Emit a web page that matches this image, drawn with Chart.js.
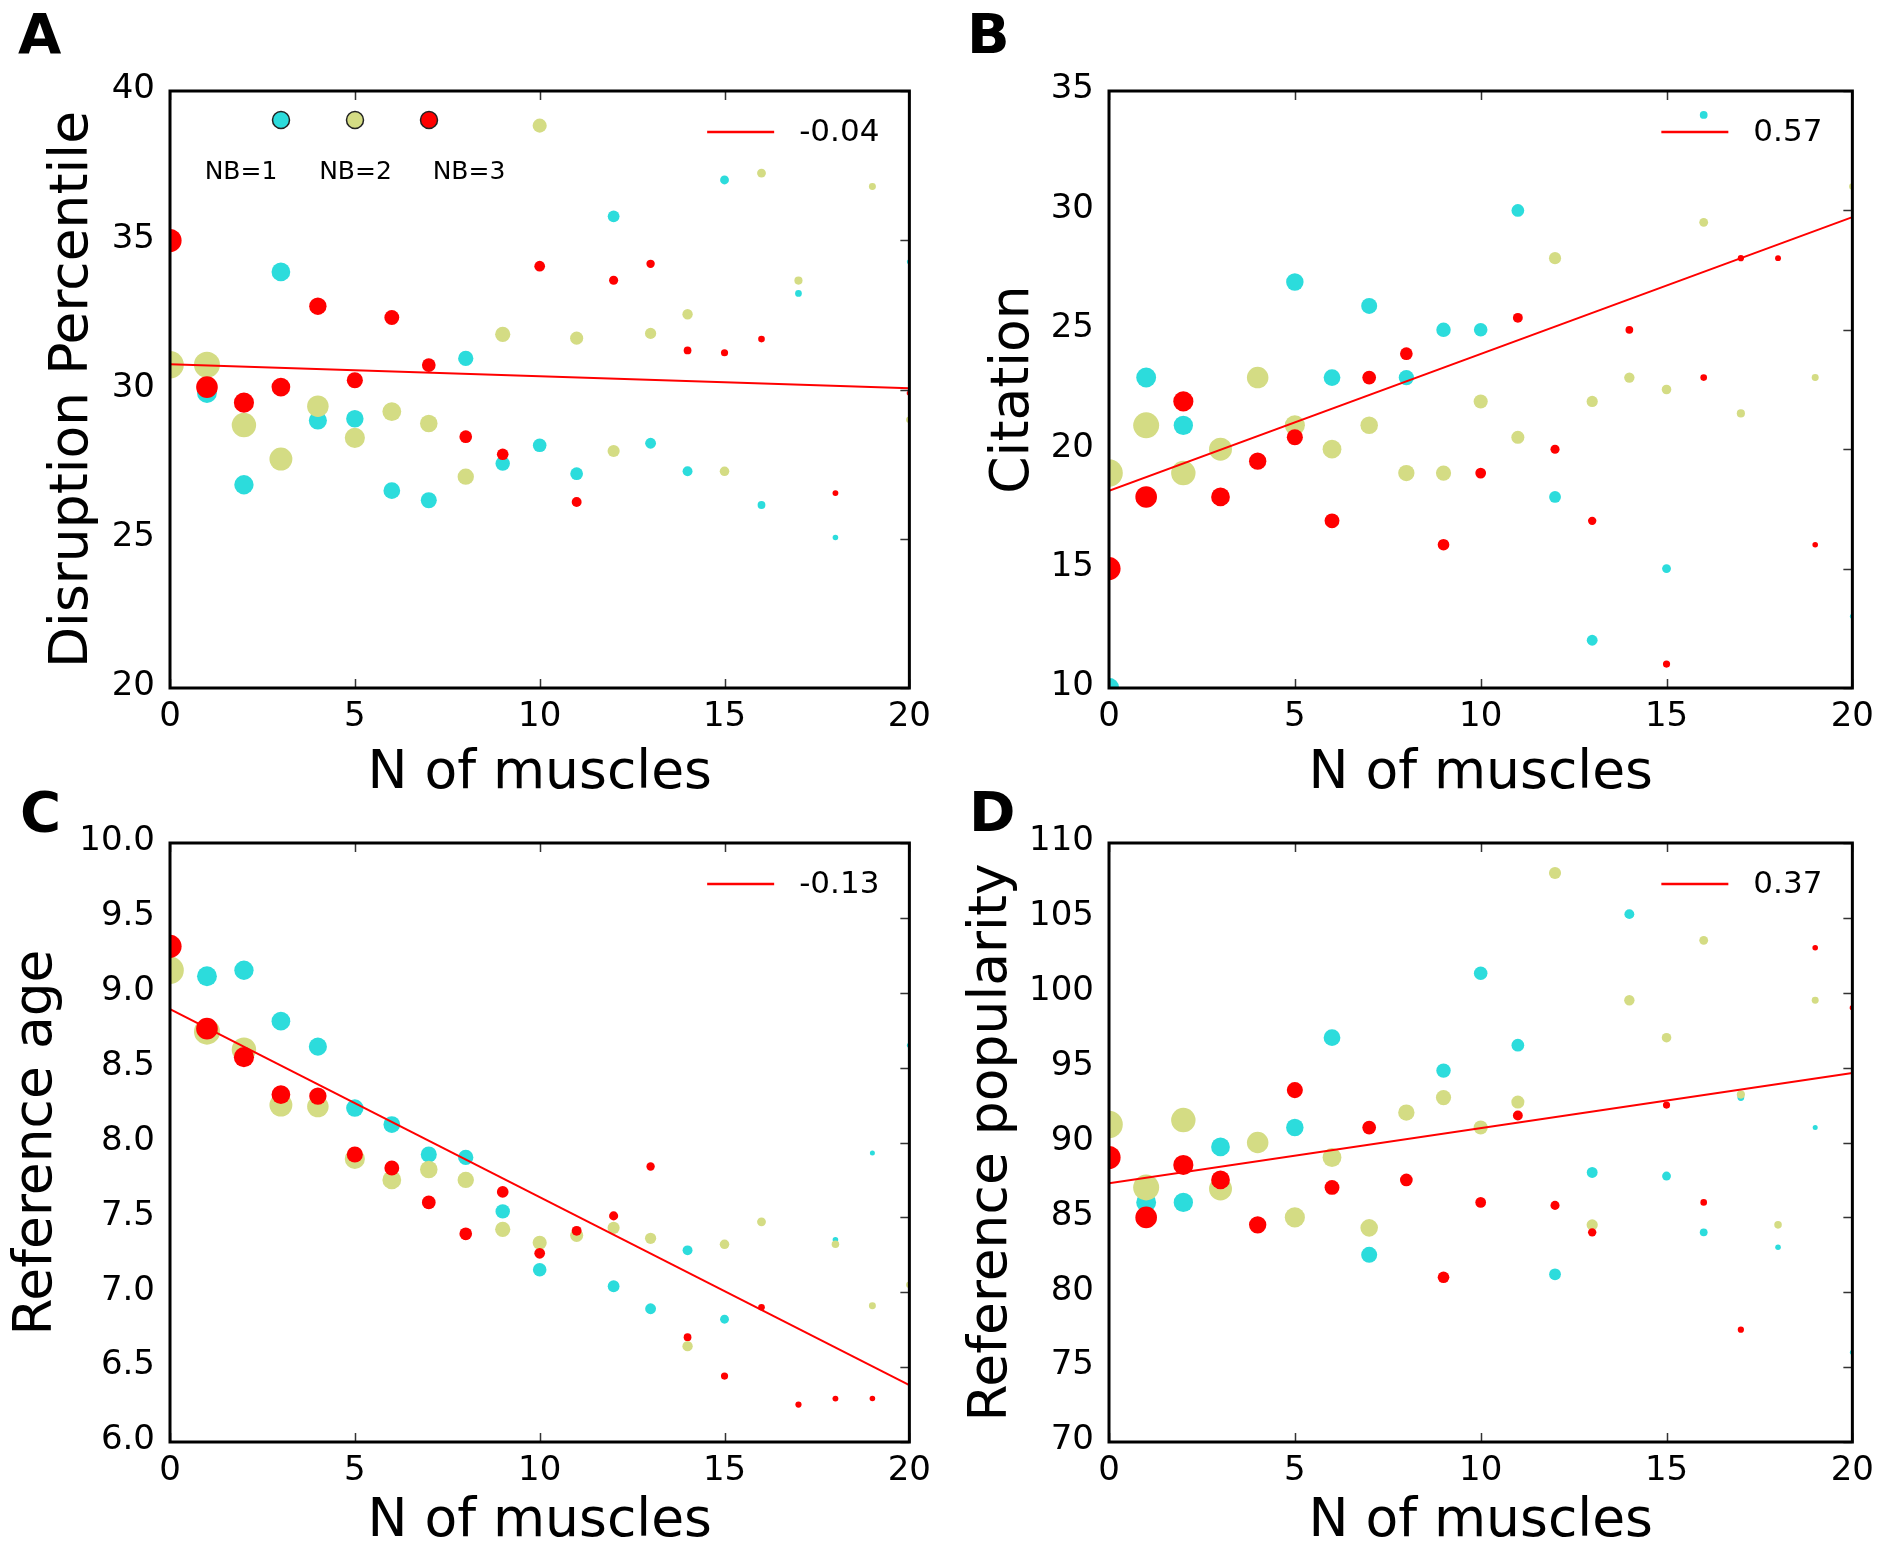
<!DOCTYPE html>
<html>
<head>
<meta charset="utf-8">
<script src="https://cdn.jsdelivr.net/npm/chart.js@4.4.1/dist/chart.umd.min.js"></script>
<style>
  html, body { margin: 0; padding: 0; background: #fff; overflow: hidden; }
  body { width: 1883px; height: 1550px; position: relative; }
  canvas { position: absolute; }
</style>
</head>
<body>
<canvas id="chartA" width="940" height="810" style="left:0px;top:0px"></canvas>
<canvas id="chartB" width="943" height="810" style="left:940px;top:0px"></canvas>
<canvas id="chartC" width="940" height="790" style="left:0px;top:760px"></canvas>
<canvas id="chartD" width="943" height="790" style="left:940px;top:760px"></canvas>
<script>
// x values: number of muscles
var nMuscles = [0,1,2,3,4,5,6,7,8,9,10,11,12,13,14,15,16,17,18,19,20];
var xTicks = [0, 5, 10, 15, 20];

// A - disruption percentile
var disruptNB1 = [null,29.88,26.81,33.94,28.96,29.02,26.61,26.29,31.04,27.52,28.13,27.18,35.80,28.20,27.26,37.02,26.13,33.22,25.04,null,34.28];
var disruptNB2 = [30.83,30.83,28.81,27.67,29.44,28.38,29.26,28.86,27.08,31.85,38.84,31.72,27.94,31.88,32.52,27.26,37.25,33.65,null,36.80,28.99];
var disruptNB3 = [34.99,30.08,29.56,30.08,32.79,30.31,32.41,30.82,28.42,27.83,34.13,26.23,33.66,34.21,31.31,31.23,31.69,null,26.53,null,29.88];
var disruptFit = [30.85, 30.04];

// B - citation
var citeNB1 = [10.0,23,21,null,null,27,23,26,23,25,25,30,18,12,null,15,34,null,null,null,13];
var citeNB2 = [19,21,19,20,23,21,20,21,19,19,22,20.5,28,22,23,22.5,29.5,21.5,null,23,31];
var citeNB3 = [15,18,22,18,19.5,20.5,17,23,24,16,19,25.5,20,17,25,11,23,28,28,16,null];
var citeFit = [18.26, 29.72];

// C - reference age
var ageNB1 = [null,9.11,9.15,8.81,8.64,8.23,8.12,7.92,7.90,7.54,7.15,null,7.04,6.89,7.28,6.82,null,null,7.35,7.93,8.65];
var ageNB2 = [9.15,8.74,8.62,8.25,8.24,7.89,7.75,7.82,7.75,7.42,7.33,7.38,7.43,7.36,6.64,7.32,7.47,null,7.32,6.91,7.05];
var ageNB3 = [9.31,8.76,8.57,8.32,8.31,7.92,7.83,7.60,7.39,7.67,7.26,7.41,7.51,7.84,6.70,6.44,6.90,6.25,6.29,6.29,null];
var ageFit = [8.89, 6.38];

// D - reference popularity
var popNB1 = [null,86,86,89.7,null,91.0,97.0,82.5,null,94.8,101.3,96.5,81.2,88.0,105.25,87.76,84.0,93.0,83.0,91.0,76];
var popNB2 = [91.2,87.0,91.5,86.9,90.0,85.0,89.0,84.3,92.0,93.0,91.0,92.7,108.0,84.5,99.5,97.0,103.5,93.2,84.5,99.5,null];
var popNB3 = [89.0,85.0,88.5,87.5,84.5,93.5,87.0,91.0,87.5,81.0,86.0,91.8,85.8,84.0,null,92.5,86.0,77.5,null,103.0,99.0];
var popFit = [87.27, 94.64];

var fitX = [0, 20];
var nbLabels = ["NB=1", "NB=2", "NB=3"];
var nbColors = ["#2cdcdc", "#d4dc84", "#ff0000"];

var FONT = "DejaVu Sans";

// marker radius shrinks with n of muscles (quadratic per group)
var sizeCoef = [[10.2, 0.25, -0.009], [13.8, 0.82, 0.0146], [11.6, 0.8, 0.0177]];
function markerRadius(x, g) {
  var c = sizeCoef[g];
  return Math.max(2.5, c[0] - c[1] * x + c[2] * x * x);
}

function toPoints(ys) {
  return nMuscles.map(function (x, i) { return {x: x, y: ys[i]}; })
    .filter(function (p) { return p.y !== null; });
}

// frame, inner ticks, legends, panel letter
const decorPlugin = {
  id: "decor",
  afterDraw(chart, args, opts) {
    const ctx = chart.ctx, a = chart.chartArea;
    const xs = chart.scales.x, ys = chart.scales.y;
    ctx.save();
    ctx.strokeStyle = "#333";
    ctx.lineWidth = 1.5;
    ctx.beginPath();
    xTicks.forEach(function (v) {
      const px = Math.round(xs.getPixelForValue(v)) + 0.5;
      ctx.moveTo(px, a.top); ctx.lineTo(px, a.top + 9);
      ctx.moveTo(px, a.bottom); ctx.lineTo(px, a.bottom - 9);
    });
    ys.ticks.forEach(function (t) {
      const py = Math.round(ys.getPixelForValue(t.value)) + 0.5;
      ctx.moveTo(a.right, py); ctx.lineTo(a.right - 9, py);
    });
    ctx.stroke();

    ctx.strokeStyle = "#000";
    ctx.lineWidth = 3;
    ctx.strokeRect(a.left, a.top, a.right - a.left, a.bottom - a.top);

    // regression legend
    ctx.font = "31px '" + FONT + "'";
    ctx.fillStyle = "#000";
    ctx.textBaseline = "middle";
    ctx.textAlign = "left";
    const w = ctx.measureText(opts.fitLabel).width;
    const tx = a.right - 30 - w, ly = a.top + 41;
    ctx.fillText(opts.fitLabel, tx, ly + 1);
    ctx.strokeStyle = "#ff0000";
    ctx.lineWidth = 2.5;
    ctx.beginPath();
    ctx.moveTo(tx - 92, ly); ctx.lineTo(tx - 25, ly);
    ctx.stroke();

    // NB legend
    if (opts.nbLegend) {
      const cx = [111, 185, 259], lx = [71, 185.5, 299];
      ctx.font = "25px '" + FONT + "'";
      ctx.textAlign = "center";
      ctx.textBaseline = "alphabetic";
      for (let i = 0; i < 3; i++) {
        ctx.beginPath();
        ctx.arc(a.left + cx[i], a.top + 29, 8.5, 0, Math.PI * 2);
        ctx.fillStyle = nbColors[i];
        ctx.fill();
        ctx.strokeStyle = "#222";
        ctx.lineWidth = 1.5;
        ctx.stroke();
        ctx.fillStyle = "#000";
        ctx.fillText(nbLabels[i], a.left + lx[i], a.top + 88);
      }
    }

    // panel letter
    ctx.font = "bold 56px '" + FONT + "'";
    ctx.fillStyle = "#000";
    ctx.textAlign = "left";
    ctx.textBaseline = "alphabetic";
    ctx.fillText(opts.letter, opts.letterX, opts.letterY);
    ctx.restore();
  }
};

function makePanel(id, cfg) {
  const canvas = document.getElementById(id);
  const W = canvas.width, H = canvas.height;
  const datasets = [
    {type: "line", data: fitX.map(function (x, i) { return {x: x, y: cfg.fit[i]}; }),
     borderColor: "#ff0000", borderWidth: 2, pointRadius: 0, order: 0, clip: 0}
  ];
  for (let g = 2; g >= 0; g--) {
    datasets.push({
      type: "scatter",
      data: toPoints(cfg.series[g]),
      backgroundColor: nbColors[g],
      borderWidth: 0,
      pointRadius: function (c) { return markerRadius(c.raw.x, g); },
      pointHoverRadius: function (c) { return markerRadius(c.raw.x, g); },
      order: 3 - g,
      clip: 0
    });
  }
  new Chart(canvas, {
    data: {datasets: datasets},
    options: {
      responsive: false,
      animation: false,
      devicePixelRatio: 1,
      layout: {padding: {left: 0, top: cfg.top, right: W - cfg.right, bottom: 0}},
      plugins: {
        legend: {display: false},
        tooltip: {enabled: false},
        decor: {fitLabel: cfg.fitLabel, nbLegend: cfg.nbLegend, letter: cfg.letter,
                letterX: cfg.letterX, letterY: cfg.letterY}
      },
      scales: {
        x: {
          type: "linear", min: 0, max: 20,
          afterFit: function (s) { s.height = H - cfg.bottom; },
          afterBuildTicks: function (s) { s.ticks = xTicks.map(function (v) { return {value: v}; }); },
          ticks: {font: {family: FONT, size: 34}, color: "#000", padding: 9, maxRotation: 0, autoSkip: false},
          grid: {display: false, drawTicks: false},
          border: {display: false},
          title: {display: true, text: "N of muscles", color: "#000",
                  font: {family: FONT, size: 53.5, lineHeight: 1}, padding: {bottom: cfg.xTitlePad, top: 0}}
        },
        y: {
          type: "linear", min: cfg.yMin, max: cfg.yMax,
          afterFit: function (s) { s.width = cfg.left; },
          ticks: {stepSize: cfg.yStep, font: {family: FONT, size: 34}, color: "#000", padding: 15,
                  labelOffset: -1.5, autoSkip: false,
                  callback: function (v) { return cfg.yDec ? v.toFixed(cfg.yDec) : String(v); }},
          grid: {display: false, drawTicks: false},
          border: {display: false},
          title: {display: true, text: cfg.yTitle, color: "#000",
                  font: {family: FONT, size: 53.5, lineHeight: 1}, padding: {top: cfg.yTitlePad, bottom: 0}}
        }
      }
    },
    plugins: [decorPlugin]
  });
}

makePanel("chartA", {
  series: [disruptNB1, disruptNB2, disruptNB3], fit: disruptFit, fitLabel: "-0.04",
  yMin: 20, yMax: 40, yStep: 5, yDec: 0, yTitle: "Disruption Percentile",
  left: 170, right: 914, top: 91, bottom: 688, xTitlePad: 9, yTitlePad: 46,
  nbLegend: true, letter: "A", letterX: 18, letterY: 53
});
makePanel("chartB", {
  series: [citeNB1, citeNB2, citeNB3], fit: citeFit, fitLabel: "0.57",
  yMin: 10, yMax: 35, yStep: 5, yDec: 0, yTitle: "Citation",
  left: 169, right: 913, top: 91, bottom: 688, xTitlePad: 9, yTitlePad: 47,
  nbLegend: false, letter: "B", letterX: 27, letterY: 53
});
makePanel("chartC", {
  series: [ageNB1, ageNB2, ageNB3], fit: ageFit, fitLabel: "-0.13",
  yMin: 6, yMax: 10, yStep: 0.5, yDec: 1, yTitle: "Reference age",
  left: 170, right: 914, top: 83, bottom: 682, xTitlePad: 1, yTitlePad: 10,
  nbLegend: false, letter: "C", letterX: 20, letterY: 71
});
makePanel("chartD", {
  series: [popNB1, popNB2, popNB3], fit: popFit, fitLabel: "0.37",
  yMin: 70, yMax: 110, yStep: 5, yDec: 0, yTitle: "Reference popularity",
  left: 169, right: 913, top: 83, bottom: 682, xTitlePad: 1, yTitlePad: 25,
  nbLegend: false, letter: "D", letterX: 29, letterY: 71
});
</script>
</body>
</html>
